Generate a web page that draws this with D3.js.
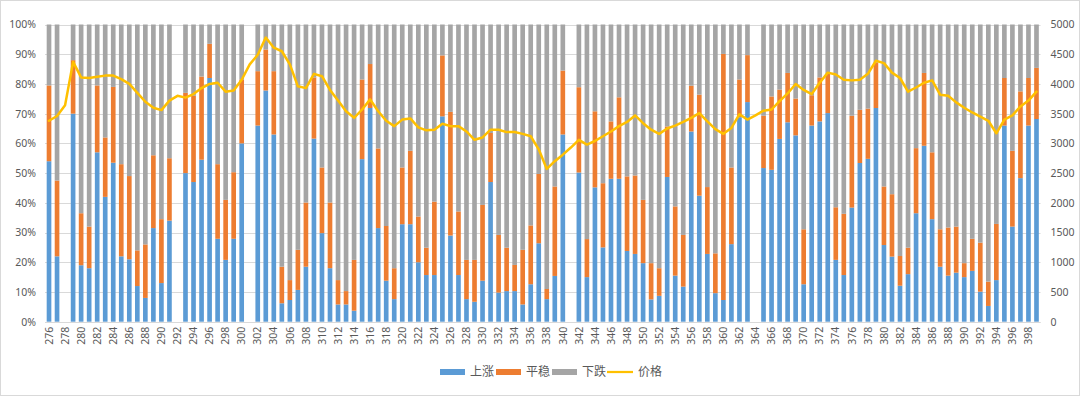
<!DOCTYPE html>
<html><head><meta charset="utf-8">
<script src="https://cdn.jsdelivr.net/npm/d3@7"></script>
<style>
html,body{margin:0;padding:0;background:#fff;}
svg{display:block;font-family:"Noto Sans CJK SC","Microsoft YaHei",sans-serif;}
</style></head>
<body><svg id="c" width="1080" height="396"></svg>
<script>
const categories = d3.range(276, 400).map(String);
// cumulative tops (%), null for empty categories
const upTop = [54,22,null,70,19,18,57,42,53.5,22,21,12,8,31.5,13,34,null,50,47,54.5,82,
  27.9,20.8,27.9,60,null,66,77.8,63,6.2,7.3,10.7,18.5,61.6,29.8,18,5.8,5.8,3.7,54.7,71.9,31.5,
  13.8,7.6,32.8,32.8,20,15.7,15.7,69.1,29,15.7,7.6,6.7,13.8,47,9.8,10.3,10.3,5.8,12.6,26.4,
  7.6,15.4,63,null,50.2,15,45.2,25,48.1,48.1,23.8,22.8,19.7,7.5,8.7,48.7,15.5,11.8,64,42.4,22.8,
  9.6,7.3,26.1,68.8,73.9,null,51.7,51.1,61.5,67.1,62.7,12.6,66,67.4,70.2,20.8,15.7,38.4,53.4,54.8,
  71.9,25.8,21.9,12.1,16,36.5,59.2,34.5,18.5,15.5,16.5,15,17.1,10.1,5.3,14,66,32,48.3,66,68.2];
const flatTop = [79.5,47.5,null,88,36.5,32,79.5,62,79,53,49,24,26,56,34.5,55,null,77,76,82.5,93.5,
  53,41,50.3,81.5,null,84.3,91.6,84.3,18.5,14,24.2,40.1,82.2,51.9,40.1,14,10.3,20.8,81.5,86.7,58.3,
  32.2,18,51.9,57.5,35.4,24.9,40.4,89.6,70.6,37.1,20.8,20.8,39.3,63.5,29.2,24.9,19.1,24.2,32.4,49.7,
  11,45.5,84.5,null,78.9,27.8,70.8,46.6,67.4,75.5,48.9,49.2,41,19.7,18,65.7,38.8,29.2,79.4,76.4,45.3,
  23,90.1,51.9,81.5,89.7,null,69.3,75.8,78.1,83.7,75.1,31.1,76.2,82.2,83.4,38.5,36.3,69.3,71.3,71.7,
  87.1,45.5,42.9,22.1,24.9,58.4,83.7,57,31.1,31.7,32,19.7,27.9,26.6,13.5,32.9,82,57.5,77.5,82,85.4];
const price = [3380,3460,3640,4370,4110,4100,4120,4140,4140,4080,4000,3850,3700,3600,3560,3720,3800,3770,3830,3930,4000,
  4020,3870,3890,4070,4330,4490,4780,4610,4550,4330,3960,3930,4170,4130,3900,3720,3540,3430,3570,3740,3540,
  3380,3290,3400,3420,3270,3220,3230,3330,3290,3290,3200,3060,3100,3230,3230,3190,3190,3160,3120,2900,
  2570,2700,2810,2930,3060,2980,3040,3120,3200,3290,3360,3470,3340,3230,3160,3250,3300,3360,3430,3510,3370,
  3240,3160,3260,3490,3400,3470,3550,3570,3710,3840,4000,3900,3830,4020,4190,4160,4070,4060,4070,4170,
  4390,4350,4190,4100,3870,3940,4020,4060,3820,3800,3690,3600,3520,3450,3380,3170,3400,3470,3620,3720,3870];
const seriesNames = ["上涨","平稳","下跌","价格"];
const leftTicks = d3.range(0, 101, 10);
const rightTicks = d3.range(0, 5001, 500);

// derived series values
const up = upTop.map(v => v);
const flat = flatTop.map((v,i) => v == null ? null : v - upTop[i]);
const down = flatTop.map(v => v == null ? null : 100 - v);

const colors = {"上涨":"#5b9bd5","平稳":"#ed7d31","下跌":"#a5a5a5","价格":"#ffc000"};
const svg = d3.select("#c");
const M = {l:45, r:1040.5, t:24.5, b:321.7};

svg.append("rect").attr("x",0.5).attr("y",0.5).attr("width",1079).attr("height",395)
  .attr("fill","#fff").attr("stroke","#d9d9d9");

const x = d3.scaleBand().domain(categories).range([M.l, M.r]).paddingInner(0.42).paddingOuter(0.21);
const y = d3.scaleLinear().domain([0,100]).range([M.b, M.t]);
const y2 = d3.scaleLinear().domain([0,5000]).range([M.b, M.t]);

// grid
svg.append("g").selectAll("line").data(leftTicks).join("line")
  .attr("x1",M.l).attr("x2",M.r)
  .attr("y1",d=>Math.round(y(d))+0.5).attr("y2",d=>Math.round(y(d))+0.5)
  .attr("stroke","#d9d9d9").attr("stroke-width",1);

// stacked bars
const rows = categories.map((c,i)=>({cat:c, "上涨":up[i], "平稳":flat[i], "下跌":down[i]})).filter(r=>r["上涨"]!=null);
const stack = d3.stack().keys(["上涨","平稳","下跌"])(rows);
svg.append("g").selectAll("g").data(stack).join("g").attr("fill",d=>colors[d.key])
  .selectAll("rect").data(d=>d).join("rect")
  .attr("x",d=>x(d.data.cat)).attr("width",x.bandwidth())
  .attr("y",d=>y(d[1])).attr("height",d=>y(d[0])-y(d[1]));

// price line
const line = d3.line().x((d,i)=>x(categories[i])+x.bandwidth()/2).y(d=>y2(d)).curve(d3.curveLinear);
svg.append("path").datum(price).attr("d",line).attr("fill","none")
  .attr("stroke",colors["价格"]).attr("stroke-width",2.5).attr("stroke-linejoin","round").attr("stroke-linecap","round");

// axes
const axisColor = "#595959";
const gl = svg.append("g").attr("transform",`translate(${M.l-6},0)`)
  .call(d3.axisLeft(y).tickValues(leftTicks).tickSize(0).tickFormat(d=>d+"%"));
gl.select(".domain").remove();
gl.selectAll("text").attr("fill",axisColor).attr("font-size",10.5).attr("font-family","'Noto Sans','DejaVu Sans',sans-serif");

const gr = svg.append("g").attr("transform",`translate(${M.r+7},0)`)
  .call(d3.axisRight(y2).tickValues(rightTicks).tickSize(0).tickFormat(d3.format("d")));
gr.select(".domain").remove();
gr.selectAll("text").attr("fill",axisColor).attr("font-size",10.5).attr("font-family","'Noto Sans','DejaVu Sans',sans-serif");

svg.append("line").attr("x1",M.l).attr("x2",M.r).attr("y1",Math.round(M.b)+0.5).attr("y2",Math.round(M.b)+0.5).attr("stroke","#d9d9d9");

const gx = svg.append("g").attr("transform",`translate(0,${M.b})`)
  .call(d3.axisBottom(x).tickValues(categories.filter(c=>+c%2===0)).tickSize(0));
gx.select(".domain").remove();
gx.selectAll("text").attr("fill",axisColor).attr("font-size",10.5).attr("font-family","'Noto Sans','DejaVu Sans',sans-serif")
  .attr("transform","rotate(-90)").attr("text-anchor","end").attr("dy","0.35em").attr("x",-5).attr("y",0);

// legend
const lg = svg.append("g");
const items = [
  {k:"上涨", sx:440, tx:470},
  {k:"平稳", sx:496, tx:526},
  {k:"下跌", sx:552, tx:582},
  {k:"价格", sx:607, tx:638}
];
items.forEach(it=>{
  if(it.k==="价格"){
    lg.append("line").attr("x1",it.sx).attr("x2",it.sx+26).attr("y1",372).attr("y2",372).attr("stroke",colors[it.k]).attr("stroke-width",2.25);
  } else {
    lg.append("rect").attr("x",it.sx).attr("y",369).attr("width",25).attr("height",6).attr("fill",colors[it.k]);
  }
  lg.append("text").attr("x",it.tx).attr("y",372).attr("dy","0.35em").attr("font-size",12).attr("fill",axisColor).text(it.k);
});
</script></body></html>
